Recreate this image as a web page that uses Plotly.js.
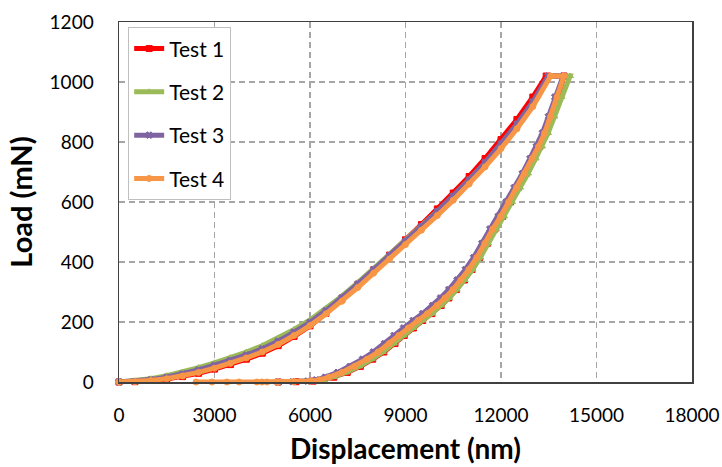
<!DOCTYPE html>
<html>
<head>
<meta charset="utf-8">
<script src="https://cdn.plot.ly/plotly-3.0.1.min.js"></script>
<style>html,body{margin:0;padding:0;background:#fff;}#chart{width:722px;height:467px;}</style>
</head>
<body>
<div id="chart"></div>
<script>
// Series names
const seriesNames = ["Test 1", "Test 2", "Test 3", "Test 4"];

// Loading branch: common displacement grid (nm) and loads per test (mN)
const loadDisp = [0, 500, 1000, 1500, 2000, 2500, 3000, 3500, 4000, 4500, 5000, 5500, 6000, 6500, 7000, 7500, 8000, 8500, 9000, 9500, 10000, 10500, 11000, 11500, 12000, 12500, 13000];
const loadT1 = [0, 1, 5, 10, 18, 29, 43, 58, 76, 96, 121, 152, 187, 229, 275, 324, 374, 423, 474, 525, 577, 630, 685, 745, 808, 875, 950];
const loadT2 = [0, 4, 11, 21, 33, 48, 64, 81, 100, 121, 146, 175, 207, 245, 286, 331, 378, 425, 472, 520, 569, 620, 673, 730, 791, 856, 929];
const loadT3 = [0, 2, 8, 16, 27, 40, 56, 72, 90, 111, 136, 166, 199, 238, 281, 327, 375, 422, 470, 519, 569, 620, 674, 732, 794, 860, 934];
const loadT4 = [0, 1, 5, 11, 20, 32, 46, 62, 80, 100, 125, 155, 188, 227, 269, 315, 363, 410, 458, 506, 555, 606, 660, 717, 778, 844, 918];

// Hold at peak load: [start displacement, end displacement] per test, peak load
const peakLoad = 1020;
const holdT1 = [13420, 13980];
const holdT2 = [13540, 14170];
const holdT3 = [13480, 13950];
const holdT4 = [13560, 13980];

// Unloading branch: common load grid (mN) and displacements per test (nm)
const unloadLoad = [950, 885, 830, 785, 745, 695, 648, 600, 552, 510, 462, 415, 375, 340, 308, 280, 255, 228, 205, 180, 155, 128, 100, 76, 52, 32, 16, 7, 3, 1, 0];
const unloadT1 = [13800, 13600, 13410, 13220, 13020, 12790, 12540, 12300, 12050, 11810, 11570, 11330, 11090, 10850, 10600, 10360, 10120, 9830, 9540, 9250, 8960, 8670, 8320, 7970, 7580, 7170, 6750, 6430, 6100, 5560, 5000];
const unloadT2 = [13900, 13680, 13480, 13290, 13090, 12850, 12600, 12350, 12100, 11850, 11600, 11350, 11110, 10860, 10610, 10370, 10120, 9830, 9530, 9240, 8940, 8640, 8290, 7940, 7550, 7140, 6730, 6420, 6100, 5550, 5000];
const unloadT3 = [13690, 13490, 13300, 13110, 12910, 12670, 12410, 12160, 11910, 11650, 11400, 11140, 10880, 10620, 10360, 10100, 9850, 9540, 9240, 8940, 8640, 8340, 7990, 7650, 7260, 6870, 6480, 6190, 5920, 5450, 5000];
const unloadT4 = [13760, 13560, 13370, 13180, 12980, 12740, 12490, 12240, 11990, 11740, 11490, 11240, 10990, 10740, 10490, 10240, 9990, 9690, 9390, 9090, 8790, 8490, 8140, 7790, 7400, 7000, 6600, 6300, 6000, 5500, 5000];

// Test 4 retraction tail at zero load
const tailT4Disp = [4960, 4650, 4490, 4330, 3770, 3390, 2920, 2420];
const tailT4Load = [0, 0, 0, 0, 0, 0, 0, 0];

// Axis tick labels
const xTicks = [0, 3000, 6000, 9000, 12000, 15000, 18000];
const yTicks = [0, 200, 400, 600, 800, 1000, 1200];

const colors = ["#FF0000", "#9BBB59", "#8064A2", "#F79646"];
const symbols = ["square", "triangle-up", "x", "circle"];

const loads = [loadT1, loadT2, loadT3, loadT4];
const holds = [holdT1, holdT2, holdT3, holdT4];
const unloads = [unloadT1, unloadT2, unloadT3, unloadT4];

const traces = seriesNames.map((name, i) => {
  let x = loadDisp.concat(holds[i], unloads[i]);
  let y = loads[i].concat([peakLoad, peakLoad], unloadLoad);
  if (i === 3) { x = x.concat(tailT4Disp); y = y.concat(tailT4Load); }
  return {
    type: "scatter", mode: "lines+markers", name: name, x: x, y: y,
    legendgroup: "g" + i, cliponaxis: false,
    line: {color: colors[i], width: 5},
    marker: {symbol: symbols[i], size: 6, color: colors[i], line: {color: colors[i], width: 1}}
  };
});

const font = "Lato, 'Open Sans', 'Liberation Sans', sans-serif";
const layout = {
  width: 722, height: 467,
  margin: {l: 119, r: 30, t: 22, b: 85},
  paper_bgcolor: "#fff", plot_bgcolor: "#fff",
  font: {family: font, size: 19, color: "#000"},
  showlegend: true,
  legend: {
    x: 0.016, y: 0.985, xanchor: "left", yanchor: "top",
    bgcolor: "#fff", bordercolor: "#BFBFBF", borderwidth: 1,
    font: {family: font, size: 21, color: "#000"},
    traceorder: "grouped", tracegroupgap: 13, itemwidth: 30
  },
  xaxis: {
    range: [0, 18000], tickmode: "array", tickvals: xTicks, ticktext: xTicks.map(String),
    showgrid: true, gridcolor: "#A6A6A6", gridwidth: 1.3, griddash: "6px,4px",
    zeroline: false, showline: true, linecolor: "#404040", linewidth: 1.5, mirror: true,
    ticks: "outside", ticklen: 16, tickcolor: "rgba(0,0,0,0)",
    tickfont: {family: font, size: 19, color: "#000"},
    title: {text: "Displacement (nm)", font: {family: font, size: 28, color: "#000", weight: "bold"}, standoff: 14}
  },
  yaxis: {
    range: [0, 1200], tickmode: "array", tickvals: yTicks, ticktext: yTicks.map(String),
    showgrid: true, gridcolor: "#A6A6A6", gridwidth: 1.3, griddash: "6px,4px",
    zeroline: false, showline: true, linecolor: "#404040", linewidth: 1.5, mirror: true,
    ticks: "outside", ticklen: 20, tickcolor: "rgba(0,0,0,0)",
    tickfont: {family: font, size: 19, color: "#000"},
    title: {text: "Load (mN)", font: {family: font, size: 29, color: "#000", weight: "bold"}, standoff: 8}
  }
};

Plotly.newPlot("chart", traces, layout, {displayModeBar: false, staticPlot: true});
</script>
</body>
</html>
